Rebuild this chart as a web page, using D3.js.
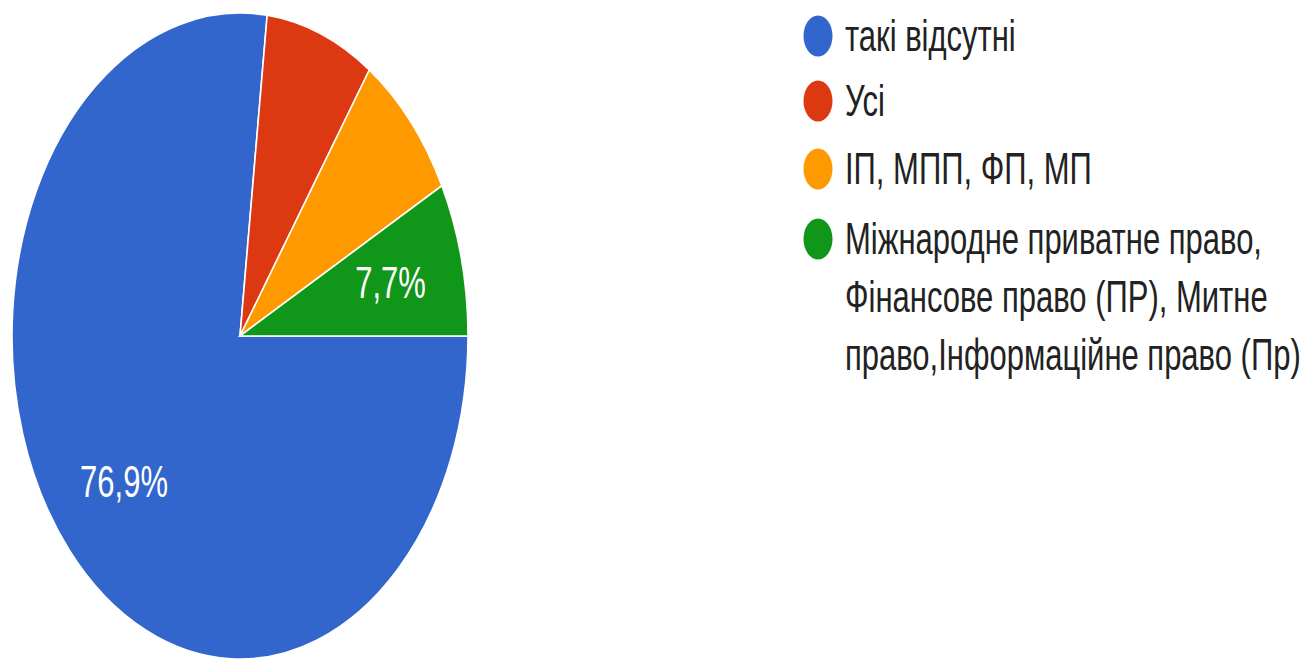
<!DOCTYPE html>
<html>
<head>
<meta charset="utf-8">
<script src="https://cdn.jsdelivr.net/npm/d3@7"></script>
<style>
  html, body { margin: 0; padding: 0; background: #fff; }
  svg { display: block; }
  text { font-family: "Liberation Sans", Arial, sans-serif; }
</style>
</head>
<body>
<svg id="chart" width="1305" height="661"></svg>
<script>
// Responses (share of answers, %)
const categories = [
  "такі відсутні",
  "Усі",
  "ІП, МПП, ФП, МП",
  "Міжнародне приватне право, Фінансове право (ПР), Митне право,Інформаційне право (Пр)"
];
const values = [76.9, 7.7, 7.7, 7.7];
const colors = ["#3366cc", "#dc3912", "#ff9900", "#109618"];
// Which slices carry a percentage label
const labelled = [true, false, false, true];
// Legend text split into display lines
const legendLines = [
  ["такі відсутні"],
  ["Усі"],
  ["ІП, МПП, ФП, МП"],
  ["Міжнародне приватне право,", "Фінансове право (ПР), Митне", "право,Інформаційне право (Пр)"]
];

const W = 1305, H = 661;
const ky = 323 / 228;          // vertical stretch of the whole drawing
const R = 228;
const cx = 240, cy = 336 / ky;

const svg = d3.select("#chart");
const g = svg.append("g").attr("transform", `scale(1,${ky})`);

const pie = d3.pie().sort(null).value(d => d)
  .startAngle(Math.PI / 2).endAngle(Math.PI / 2 + 2 * Math.PI);
const arcs = pie(values);
const arc = d3.arc().innerRadius(0).outerRadius(R);
const labelArc = d3.arc().innerRadius(R * 0.68).outerRadius(R * 0.68);

const pieG = g.append("g").attr("transform", `translate(${cx},${cy})`);
pieG.selectAll("path.slice")
  .data(arcs)
  .join("path")
  .attr("class", "slice")
  .attr("d", arc)
  .attr("fill", (d, i) => colors[i])
  .attr("stroke", "#fff")
  .attr("stroke-width", 1.6)
  .attr("vector-effect", "non-scaling-stroke");

const fmt = v => d3.format(".1f")(v).replace(".", ",") + "%";
pieG.selectAll("text.pct")
  .data(arcs.filter((d, i) => labelled[i]))
  .join("text")
  .attr("class", "pct")
  .attr("transform", d => `translate(${labelArc.centroid(d)})`)
  .attr("text-anchor", "middle")
  .attr("dominant-baseline", "central")
  .attr("fill", "#fff")
  .attr("font-size", 31)
  .text(d => fmt(d.data));

// Legend
const legendX = 818;
const rowY = [36, 101, 169, 239].map(v => v / ky);
const lineH = 58 / ky;
const leg = g.append("g");
const rows = leg.selectAll("g.row")
  .data(categories)
  .join("g")
  .attr("class", "row")
  .attr("transform", (d, i) => `translate(${legendX},${rowY[i]})`);
rows.append("circle")
  .attr("r", 14.5)
  .attr("fill", (d, i) => colors[i]);
rows.each(function (d, i) {
  d3.select(this).selectAll("text")
    .data(legendLines[i])
    .join("text")
    .attr("x", 27)
    .attr("y", (t, j) => j * lineH)
    .attr("dominant-baseline", "central")
    .attr("fill", "#222")
    .attr("font-size", 31)
    .text(t => t);
});
</script>
</body>
</html>
